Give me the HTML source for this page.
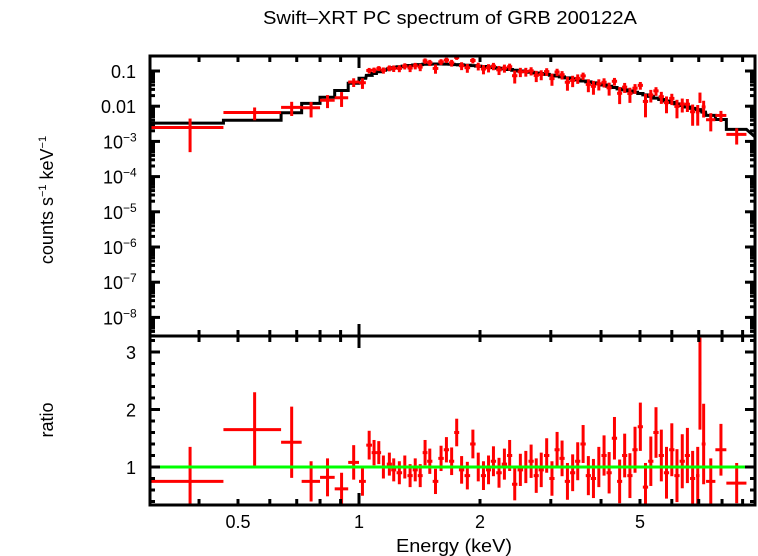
<!DOCTYPE html>
<html><head><meta charset="utf-8"><style>
body{margin:0;background:#fff}
svg{display:block;font-family:"Liberation Sans",sans-serif}
</style></head><body>
<svg id="c" width="758" height="556">
<text x="450" y="24" font-size="18" text-anchor="middle" textLength="374" lengthAdjust="spacingAndGlyphs">Swift–XRT PC spectrum of GRB 200122A</text>
<text transform="translate(53,200) rotate(-90)" font-size="18" text-anchor="middle">counts s<tspan dy="-7" font-size="11">−1</tspan><tspan dy="7"> keV</tspan><tspan dy="-7" font-size="11">−1</tspan></text>
<text transform="translate(53,420) rotate(-90)" font-size="18" text-anchor="middle">ratio</text>
<text x="454" y="552" font-size="18" text-anchor="middle" textLength="116" lengthAdjust="spacingAndGlyphs">Energy (keV)</text>
<g id="g"></g>
</svg>
<script>
// Data
const lowE=[0.38,0.55,0.68,0.76,0.835,0.905,0.97,1.02];
const lowHW=[0.08,0.09,0.04,0.04,0.035,0.035,0.03,0.02];
const lowRatio=[0.75,1.65,1.43,0.75,0.82,0.62,1.08,0.75];
const lowErr=[0.6,0.65,0.62,0.35,0.33,0.28,0.3,0.25];
const lowModel=[0.0033,0.004,0.0065,0.012,0.018,0.028,0.045,0.062];
const midE=[1.06,1.09,1.12,1.15,1.19,1.22,1.26,1.30,1.34,1.38,1.42,1.46,1.50,1.55,1.60,1.65,1.70,1.75,1.80,1.86,1.92,1.98,2.04,2.10,2.16,2.23,2.30,2.37,2.44,2.52,2.60,2.68,2.76,2.84,2.93,3.02,3.11,3.20,3.30,3.40,3.50,3.61,3.72,3.83,3.95,4.07,4.19,4.32,4.45,4.58,4.72,4.86,5.01,5.16,5.32,5.48,5.65,5.82,6.00,6.18,6.37,6.56,6.76,6.96];
const midRatio=[1.38,1.25,1.25,1.0,1.05,0.95,0.9,1.0,0.85,0.95,0.85,1.25,1.1,0.75,1.15,1.3,1.1,1.6,0.95,0.85,1.4,1.0,0.85,0.95,1.1,0.9,1.05,1.2,0.7,0.95,1.0,1.1,0.85,0.95,1.2,0.8,1.3,1.15,0.75,0.9,1.1,1.4,0.85,0.8,1.0,1.2,0.9,1.5,0.75,1.2,0.85,1.3,1.7,0.65,1.1,1.6,1.2,0.9,1.3,0.85,1.1,1.2,0.8,0.85];
const midErr=[0.25,0.22,0.2,0.2,0.2,0.2,0.2,0.2,0.2,0.2,0.2,0.22,0.22,0.22,0.22,0.22,0.24,0.24,0.24,0.24,0.25,0.25,0.25,0.25,0.26,0.26,0.27,0.27,0.28,0.28,0.28,0.29,0.3,0.3,0.3,0.3,0.31,0.31,0.32,0.32,0.33,0.33,0.34,0.34,0.35,0.35,0.36,0.37,0.38,0.38,0.39,0.4,0.42,0.42,0.43,0.44,0.45,0.45,0.46,0.46,0.47,0.48,0.48,0.5];
const midModel=[0.075,0.085,0.095,0.105,0.115,0.125,0.132,0.138,0.143,0.148,0.152,0.155,0.157,0.158,0.158,0.157,0.155,0.152,0.149,0.146,0.142,0.138,0.134,0.13,0.125,0.12,0.115,0.11,0.105,0.1,0.096,0.092,0.088,0.084,0.08,0.076,0.072,0.068,0.064,0.06,0.056,0.052,0.049,0.046,0.043,0.04,0.037,0.034,0.031,0.029,0.027,0.025,0.023,0.021,0.019,0.017,0.0155,0.014,0.0128,0.0116,0.0105,0.0095,0.0087,0.008];
const hiE=[7.05,7.2,7.5,7.95,8.7,9.66];
const hiHW=[0.05,0.08,0.2,0.25,0.5,0.04];
const hiRatio=[2.45,1.4,0.75,1.3,0.72,3.3];
const hiErr=[0.8,0.7,0.4,0.45,0.35,1.5];
const hiModel=[0.0075,0.0068,0.0055,0.0042,0.0022,0.0014];
const yTicks=[-1,-2,-3,-4,-5,-6,-7,-8];
const yTickLabels=["0.1","0.01","10|−3","10|−4","10|−5","10|−6","10|−7","10|−8"];
const rTicks=[1,2,3];
const xTicks=[0.5,1,2,5];
const xTickLabels=["0.5","1","2","5"];

const L=150,R=755,T1=56,B1=336,B2=505;
const xs=e=>359+402*Math.log10(e);
const yc=v=>71-35.2*(Math.log10(v)+1);
const yr=r=>467-57.5*(r-1);
const g=document.getElementById('g');
const NS='http://www.w3.org/2000/svg';
function mk(t,a,name){const el=document.createElementNS(NS,t);for(const k in a)el.setAttribute(k,a[k]);


g.appendChild(el);return el;}
function ln(x1,y1,x2,y2,c,w,name){return mk('line',{x1,y1,x2,y2,stroke:c,'stroke-width':w},name);}

const E=[],HW=[],RA=[],ER=[],MO=[];
lowE.forEach((e,i)=>{E.push(e);HW.push(lowHW[i]);RA.push(lowRatio[i]);ER.push(lowErr[i]);MO.push(lowModel[i]);});
midE.forEach((e,i)=>{const lo=i?(e+midE[i-1])/2:1.04;const hi=i<midE.length-1?(e+midE[i+1])/2:7.0;E.push(e);HW.push((hi-lo)/2);RA.push(midRatio[i]);ER.push(midErr[i]);MO.push(midModel[i]);});
hiE.forEach((e,i)=>{E.push(e);HW.push(hiHW[i]);RA.push(hiRatio[i]);ER.push(hiErr[i]);MO.push(hiModel[i]);});

const defs=document.createElementNS(NS,'defs');
defs.innerHTML='<clipPath id="c1"><rect x="150" y="56" width="605" height="280"/></clipPath><clipPath id="c2"><rect x="150" y="336" width="605" height="169"/></clipPath>';
g.appendChild(defs);

let d='';
E.forEach((e,i)=>{const x0=xs(e-HW[i]),x1=xs(e+HW[i]),y=yc(MO[i]);d+=(i?'L':'M')+x0+','+y+'L'+x1+','+y;});
mk('path',{d,fill:'none',stroke:'#000','stroke-width':3,'clip-path':'url(#c1)'},'model-line');

E.forEach((e,i)=>{
 const x0=xs(e-HW[i]),x1=xs(e+HW[i]),xc=xs(e);
 const v=MO[i]*RA[i],lo=Math.max(MO[i]*(RA[i]-ER[i]),1e-9),hi=MO[i]*(RA[i]+ER[i]);
 const a=ln(x0,yc(v),x1,yc(v),'#f00',3,'data-point-hbar');a.setAttribute('clip-path','url(#c1)');
 const b=ln(xc,yc(lo),xc,yc(hi),'#f00',3,'data-point-errbar');b.setAttribute('clip-path','url(#c1)');
 const c=ln(x0,yr(RA[i]),x1,yr(RA[i]),'#f00',3,'ratio-point-hbar');c.setAttribute('clip-path','url(#c2)');
 const f=ln(xc,yr(RA[i]-ER[i]),xc,yr(RA[i]+ER[i]),'#f00',3,'ratio-point-errbar');f.setAttribute('clip-path','url(#c2)');
});
ln(L,yr(1),R,yr(1),'#0f0',3,'unity-line');

mk('rect',{x:L,y:T1,width:R-L,height:B1-T1,fill:'none',stroke:'#000','stroke-width':3},'top-panel-frame');
mk('rect',{x:L,y:B1,width:R-L,height:B2-B1,fill:'none',stroke:'#000','stroke-width':3},'bottom-panel-frame');

const minorX=[0.4,0.5,0.6,0.7,0.8,0.9,1,2,3,4,5,6,7,8,9];
minorX.forEach(e=>{const x=xs(e),big=(e===1);const s=big?12:6;
 ln(x,T1,x,T1+s,'#000',3,'x-tick-top');ln(x,B1-s,x,B1+s,'#000',3,'x-tick-mid');ln(x,B2,x,B2-s,'#000',3,'x-tick-bottom');});
xTicks.forEach((e,i)=>{const t=mk('text',{x:xs(e),y:528,'font-size':18,'text-anchor':'middle'},'x-tick-label');t.textContent=xTickLabels[i];});

yTicks.forEach((p,i)=>{const y=yc(Math.pow(10,p));ln(L,y,L+10,y,'#000',3,'y-tick-major');ln(R,y,R-10,y,'#000',3,'y-tick-major-right');
 for(let k=2;k<10;k++){const ym=yc(k*Math.pow(10,p-1));if(ym>T1&&ym<B1){ln(L,ym,L+5,ym,'#000',3,'y-tick-minor');ln(R,ym,R-5,ym,'#000',3,'y-tick-minor-right');}}
 const parts=yTickLabels[i].split('|');const t=mk('text',{x:136,y:y+7,'font-size':18,'text-anchor':'end'},'y-tick-label');
 t.textContent=parts[0];if(parts[1]){const s=document.createElementNS(NS,'tspan');s.setAttribute('dy','-7');s.setAttribute('font-size','12');s.textContent=parts[1];t.appendChild(s);t.setAttribute('text-anchor','start');t.setAttribute('x',103);}
});
for(let r=0.4;r<3.3;r+=0.2){const y=yr(r);const maj=Math.abs(r-Math.round(r))<0.01;ln(L,y,L+(maj?10:5),y,'#000',3,'ratio-tick');ln(R,y,R-(maj?10:5),y,'#000',3,'ratio-tick-right');}
rTicks.forEach(r=>{const t=mk('text',{x:136,y:yr(r)+7,'font-size':18,'text-anchor':'end'},'ratio-tick-label');t.textContent=String(r);});
</script>
</body></html>
